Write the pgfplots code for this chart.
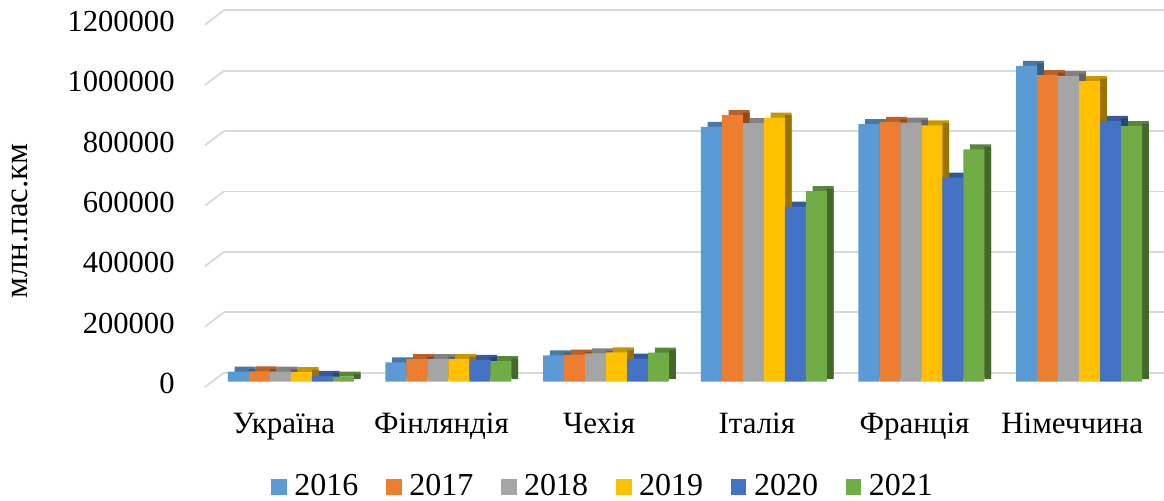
\documentclass[border=0pt]{standalone}
\usepackage{fontspec}
\setmainfont{Liberation Serif}
\usepackage{graphicx}
\usepackage{pgfplots}
\pgfplotsset{compat=1.18}
\usepackage{pgfplotstable}
\definecolor{c1}{HTML}{5B9BD5}
\definecolor{c2}{HTML}{ED7D31}
\definecolor{c3}{HTML}{A5A5A5}
\definecolor{c4}{HTML}{FFC000}
\definecolor{c5}{HTML}{4472C4}
\definecolor{c6}{HTML}{70AD47}
\definecolor{gridc}{HTML}{D9D9D9}

\pgfplotstableread{
x a b c d e f
0 33000 34000 33000 32000 19000 16500
1 64000 75000 75000 75000 72000 68500
2 87000 89500 94000 97000 76000 96000
3 844000 883000 856000 874000 580000 631000
4 853000 860000 858000 849000 676000 769000
5 1046000 1015000 1012000 995000 864000 846000
}\data

\newcommand{\lf}{\fontsize{16}{19}\selectfont}
% #1 column, #2 colour, #3 front bar shift (pt), #4 year
\newcommand{\series}[4]{%
  \addplot[ybar, bar width=10.5pt, bar shift=#3pt+3.35pt, fill=#2!78!black, draw=none, yshift=2.5pt, forget plot] table[x=x,y=#1] {\data};
  \addplot[ybar, bar width=3.35pt, bar shift=#3pt+6.925pt, fill=#2!60!black, draw=none, yshift=1.25pt, forget plot] table[x=x,y=#1] {\data};
  \addplot[ybar, bar width=10.5pt, bar shift=#3pt, fill=#2, draw=none] table[x=x,y=#1] {\data};
  \addlegendentry{\lf #4}
}

\begin{document}
\begin{tikzpicture}
\useasboundingbox (0,0) rectangle (582pt,250.5pt);
\begin{axis}[
  at={(106pt,59.65pt)}, anchor=south west,
  scale only axis, width=473pt, height=181.2pt,
  xmin=-0.5, xmax=5.5, ymin=0, ymax=1200000,
  clip=false,
  axis line style={draw=none}, tick style={draw=none},
  xtick={0,1,2,3,4,5},
  xticklabels={Україна,Фінляндія,Чехія,Італія,Франція,Німеччина},
  xticklabel style={font=\fontsize{15.5}{18}\selectfont, anchor=base, inner sep=0pt, yshift=-26.15pt, xshift=-3.5pt},
  ytick={0,200000,400000,600000,800000,1000000,1200000},
  yticklabels={0,200000,400000,600000,800000,1000000,1200000},
  yticklabel style={font=\fontsize{15.3}{18}\selectfont, anchor=east, inner sep=0pt, xshift=-18.5pt, yshift=-1pt},
  scaled y ticks=false,
  ymajorgrids,
  major grid style={draw=gridc, line width=0.9pt, xshift=6pt, yshift=4.5pt},
  ylabel={млн.пас.км},
  ylabel style={at={(axis description cs:-0.1945,0.4434)}, anchor=south, inner sep=0pt, font=\fontsize{16.5}{19}\selectfont},
  legend columns=6,
  legend cell align=center,
  legend style={at={(axis description cs:0.4123,-0.2898)}, anchor=center, draw=none, fill=none,
    font=\lf, nodes={inner sep=0pt},
    /tikz/every odd column/.append style={column sep=3.8pt},
    /tikz/every even column/.append style={column sep=13.8pt}},
  legend image code/.code={\fill[#1] (0pt,-4pt) rectangle (7.85pt,4pt);},
]
\pgfplotsinvokeforeach{0,200000,400000,600000,800000,1000000,1200000}{
  \draw[draw=gridc, line width=0.9pt] ([shift={(-3.5pt,-2.65pt)}]axis cs:-0.5,#1) -- ([shift={(6pt,4.5pt)}]axis cs:-0.5,#1);
}
\series{a}{c1}{-26.25}{2016}
\series{b}{c2}{-15.75}{2017}
\series{c}{c3}{-5.25}{2018}
\series{d}{c4}{5.25}{2019}
\series{e}{c5}{15.75}{2020}
\series{f}{c6}{26.25}{2021}
\end{axis}
\end{tikzpicture}
\end{document}
